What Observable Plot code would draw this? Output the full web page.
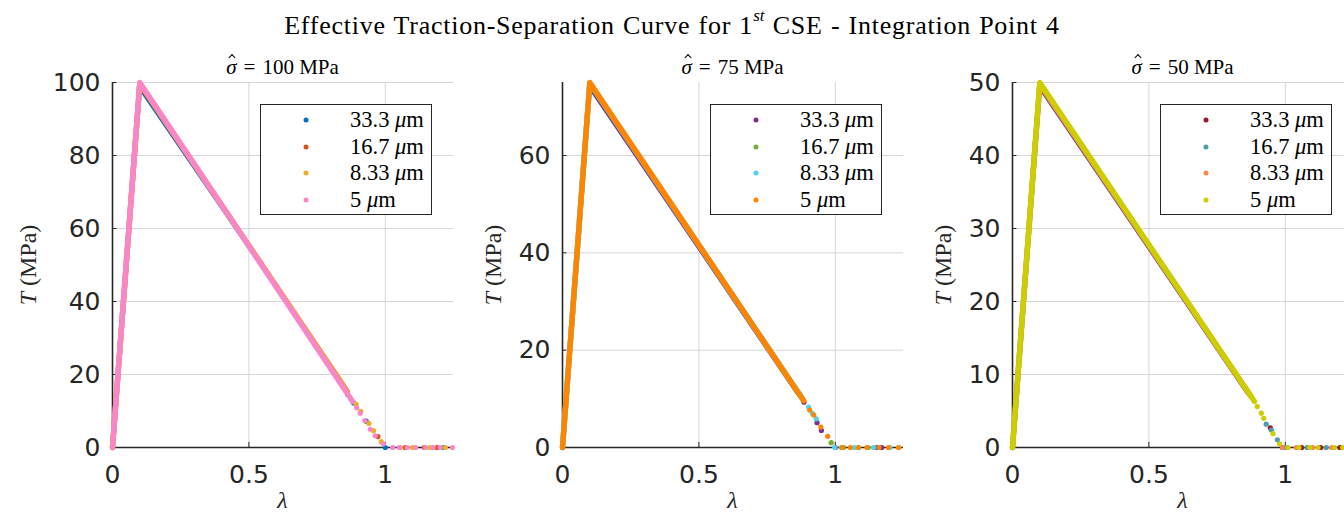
<!DOCTYPE html>
<html><head><meta charset="utf-8">
<script src="https://cdn.jsdelivr.net/npm/d3@7"></script>
<script src="https://cdn.jsdelivr.net/npm/@observablehq/plot@0.6"></script>
<style>
html,body{margin:0;padding:0;background:#fff;}
body{width:1344px;height:514px;overflow:hidden;position:relative;font-family:"Liberation Serif","DejaVu Serif",serif;color:#000;}
#title{position:absolute;left:0;width:1344px;top:3px;text-align:center;font-size:26px;line-height:32px;letter-spacing:0.75px;word-spacing:1px;}
#title sup{font-size:17px;font-style:italic;position:relative;top:-3px;letter-spacing:0;}
.sub{position:absolute;top:54px;width:300px;margin-left:-150px;text-align:center;font-size:21px;line-height:26px;}
.sub .eq{padding:0 7px;}
.hat{position:relative;display:inline-block;}
.hat::after{content:"";position:absolute;left:50%;top:1px;width:4px;height:4px;border-left:1.2px solid #000;border-top:1.2px solid #000;transform:translateX(-30%) rotate(45deg);}
.ylab{position:absolute;transform:translate(-50%,-50%) rotate(-90deg);font-size:24px;white-space:nowrap;color:#262626;}
.xlab{position:absolute;transform:translate(-50%,-50%);font-size:24px;font-style:italic;color:#262626;}
.pl{position:absolute;top:0;}
.legend{position:absolute;top:104px;width:172px;height:111px;border:1.5px solid #262626;background:#fff;box-sizing:border-box;}
.legend .dot{position:absolute;width:5px;height:5px;border-radius:50%;transform:translate(-50%,-50%);}
.legend .txt{position:absolute;transform:translateY(-50%);font-size:22.5px;white-space:nowrap;}
</style>
</head><body>
<div id="title">Effective Traction-Separation Curve for 1<sup>st</sup> CSE - Integration Point 4</div>
<script>
// ---------- data ----------
const xTicks = [0, 0.5, 1];
const sizeLabels = ["33.3", "16.7", "8.33", "5"];
const peakLabels = ["100", "75", "50"];
const yMax = [100, 75, 50];
const yTicks100 = [0, 20, 40, 60, 80, 100];
const yTicks75 = [0, 20, 40, 60];
const yTicks50 = [0, 10, 20, 30, 40, 50];
const colors100 = ["#0072BD", "#D95319", "#EDB120", "#F986C8"];
const colors75 = ["#7E2F8E", "#77AC30", "#4DD5EE", "#FF8500"];
const colors50 = ["#A2142F", "#4C9FA6", "#FF8456", "#CDCD00"];

// panel sigma = 100 MPa : dense part (vertices) and sparse dots
const p100_s33_line = [[0,0],[0.1,98.5],[0.775,24.9]];
const p100_s33_dots = [[0.80,22.0],[0.83,18.6],[0.862,14.5],[0.884,12.2],[0.93,7.2],[1.0,0],[1.215,0]];
const p100_s16_line = [[0,0],[0.1,99.6],[0.86,15.4]];
const p100_s16_dots = [[0.973,3.0],[1.073,0],[1.143,0],[1.19,0]];
const p100_s8_line = [[0,0],[0.1,99.8],[0.86,15.3]];
const p100_s8_dots = [[0.893,11.8],[0.91,9.9],[0.94,6.6],[0.957,4.6],[0.985,1.6],[1.055,0],[1.1,0],[1.163,0],[1.22,0]];
const p100_s5_line = [[0,0],[0.1,100],[0.88,12.6]];
const p100_s5_dots = [[0.895,10.9],[0.908,9.4],[0.925,7.4],[0.945,5.0],[0.963,3.2],[0.993,1.0],[1.027,0],[1.051,0],[1.08,0],[1.111,0],[1.147,0],[1.175,0],[1.201,0],[1.246,0]];

// panel sigma = 75 MPa
const p75_s33_line = [[0,0],[0.1,74.0],[0.86,11.2]];
const p75_s33_dots = [[0.885,9.3],[0.933,5.1],[0.949,3.5],[1.0,0],[1.153,0],[1.17,0]];
const p75_s16_line = [[0,0],[0.1,74.8],[0.87,10.8]];
const p75_s16_dots = [[0.985,1.0],[1.03,0],[1.085,0],[1.12,0]];
const p75_s8_line = [[0,0],[0.1,74.9],[0.88,10.0]];
const p75_s8_dots = [[0.902,8.3],[0.916,7.0],[0.93,5.9],[0.998,0],[1.022,0],[1.07,0],[1.14,0],[1.2,0],[1.232,0]];
const p75_s5_line = [[0,0],[0.1,75],[0.884,9.6]];
const p75_s5_dots = [[0.906,7.7],[0.921,6.7],[0.947,4.2],[0.972,2.3],[1.024,0],[1.055,0],[1.085,0],[1.116,0],[1.16,0],[1.195,0],[1.232,0]];

// panel sigma = 50 MPa
const p50_s33_line = [[0,0],[0.1,49.3],[0.86,7.5]];
const p50_s33_dots = [[0.945,2.7],[0.99,0],[1.06,0],[1.13,0],[1.2,0]];
const p50_s16_line = [[0,0],[0.1,49.7],[0.87,7.2]];
const p50_s16_dots = [[0.93,3.2],[0.949,2.4],[0.971,1.05],[1.0,0],[1.08,0],[1.15,0],[1.23,0]];
const p50_s8_line = [[0,0],[0.1,49.8],[0.875,7.0]];
const p50_s8_dots = [[0.99,0],[1.04,0],[1.1,0],[1.17,0],[1.22,0]];
const p50_s5_line = [[0,0],[0.1,50],[0.887,6.3]];
const p50_s5_dots = [[0.897,5.6],[0.912,4.7],[0.921,4.0],[0.955,1.9],[0.979,0.5],[1.01,0],[1.05,0],[1.09,0],[1.12,0],[1.18,0],[1.21,0],[1.24,0]];

// ---------- layout ----------
const panels = [
  {left: 0,   ymax: yMax[0], yTicks: yTicks100, colors: colors100, peak: peakLabels[0], ylabX: 28,
   lines: [p100_s33_line, p100_s16_line, p100_s8_line, p100_s5_line],
   dots: [p100_s33_dots, p100_s16_dots, p100_s8_dots, p100_s5_dots]},
  {left: 450, ymax: yMax[1], yTicks: yTicks75, colors: colors75, peak: peakLabels[1], ylabX: 493,
   lines: [p75_s33_line, p75_s16_line, p75_s8_line, p75_s5_line],
   dots: [p75_s33_dots, p75_s16_dots, p75_s8_dots, p75_s5_dots]},
  {left: 900, ymax: yMax[2], yTicks: yTicks50, colors: colors50, peak: peakLabels[2], ylabX: 943,
   lines: [p50_s33_line, p50_s16_line, p50_s8_line, p50_s5_line],
   dots: [p50_s33_dots, p50_s16_dots, p50_s8_dots, p50_s5_dots]}
];
const ML = 112, MR = 4, PW = 341, MT = 82, MB = 67, H = 514;

panels.forEach((p) => {
  const marks = [
    Plot.gridX(xTicks, {stroke: "#d6d6d6", strokeOpacity: 1, strokeWidth: 1}),
    Plot.gridY(p.yTicks, {stroke: "#d6d6d6", strokeOpacity: 1, strokeWidth: 1}),
    Plot.ruleX(xTicks, {y1: 0, y2: p.ymax * 0.014, stroke: "#262626", strokeWidth: 1}),
    Plot.ruleY(p.yTicks, {x1: 0, x2: 0.016, stroke: "#262626", strokeWidth: 1}),
    Plot.ruleY([0], {stroke: "#262626", strokeWidth: 1.6}),
    Plot.ruleX([0], {stroke: "#262626", strokeWidth: 1.6})
  ];
  p.lines.forEach((ln, i) => {
    marks.push(Plot.line(ln, {x: d => d[0], y: d => d[1], stroke: p.colors[i],
      strokeWidth: i === 0 ? 3.6 : 5.4, strokeLinejoin: "round", strokeLinecap: "round"}));
    marks.push(Plot.dot(p.dots[i], {x: d => d[0], y: d => d[1], fill: p.colors[i], stroke: "none", r: 2.6}));
  });
  marks.push(Plot.axisX(xTicks, {tickSize: 0, tickPadding: 18, fontSize: 25, label: null, tickFormat: d => String(d)}));
  marks.push(Plot.axisY(p.yTicks, {tickSize: 0, tickPadding: 12, fontSize: 25, label: null, tickFormat: d => String(d)}));

  const svg = Plot.plot({
    width: ML + PW + MR, height: H,
    marginLeft: ML, marginRight: MR, marginTop: MT, marginBottom: MB,
    x: {domain: [0, 1.25], label: null},
    y: {domain: [0, p.ymax], label: null},
    style: {background: "transparent", color: "#262626", fontFamily: "'DejaVu Sans', sans-serif", overflow: "visible", maxWidth: "none"},
    marks
  });
  const wrap = document.createElement("div");
  wrap.className = "pl";
  wrap.style.left = p.left + "px";
  wrap.appendChild(svg);
  document.body.appendChild(wrap);

  const cx = p.left + ML + PW / 2;
  const sub = document.createElement("div");
  sub.className = "sub";
  sub.style.left = cx + "px";
  sub.innerHTML = `<span class="hat"><i>σ</i></span><span class="eq">=</span>${p.peak} MPa`;
  document.body.appendChild(sub);

  const yl = document.createElement("div");
  yl.className = "ylab";
  yl.style.left = p.ylabX + "px";
  yl.style.top = (MT + (H - MT - MB) / 2) + "px";
  yl.innerHTML = `<i>T</i> (MPa)`;
  document.body.appendChild(yl);

  const xl = document.createElement("div");
  xl.className = "xlab";
  xl.style.left = cx + "px";
  xl.style.top = "500px";
  xl.textContent = "λ";
  document.body.appendChild(xl);

  const lg = document.createElement("div");
  lg.className = "legend";
  lg.style.left = (p.left + ML + PW - 21 - 172) + "px";
  const rows = [15, 42, 68, 95];
  sizeLabels.forEach((s, i) => {
    const dt = document.createElement("div");
    dt.className = "dot";
    dt.style.left = "45px"; dt.style.top = rows[i] + "px";
    dt.style.background = p.colors[i];
    lg.appendChild(dt);
    const tx = document.createElement("div");
    tx.className = "txt";
    tx.style.left = "89px"; tx.style.top = rows[i] + "px";
    tx.innerHTML = `${s} <i>μ</i>m`;
    lg.appendChild(tx);
  });
  document.body.appendChild(lg);
});
</script>
</body></html>
